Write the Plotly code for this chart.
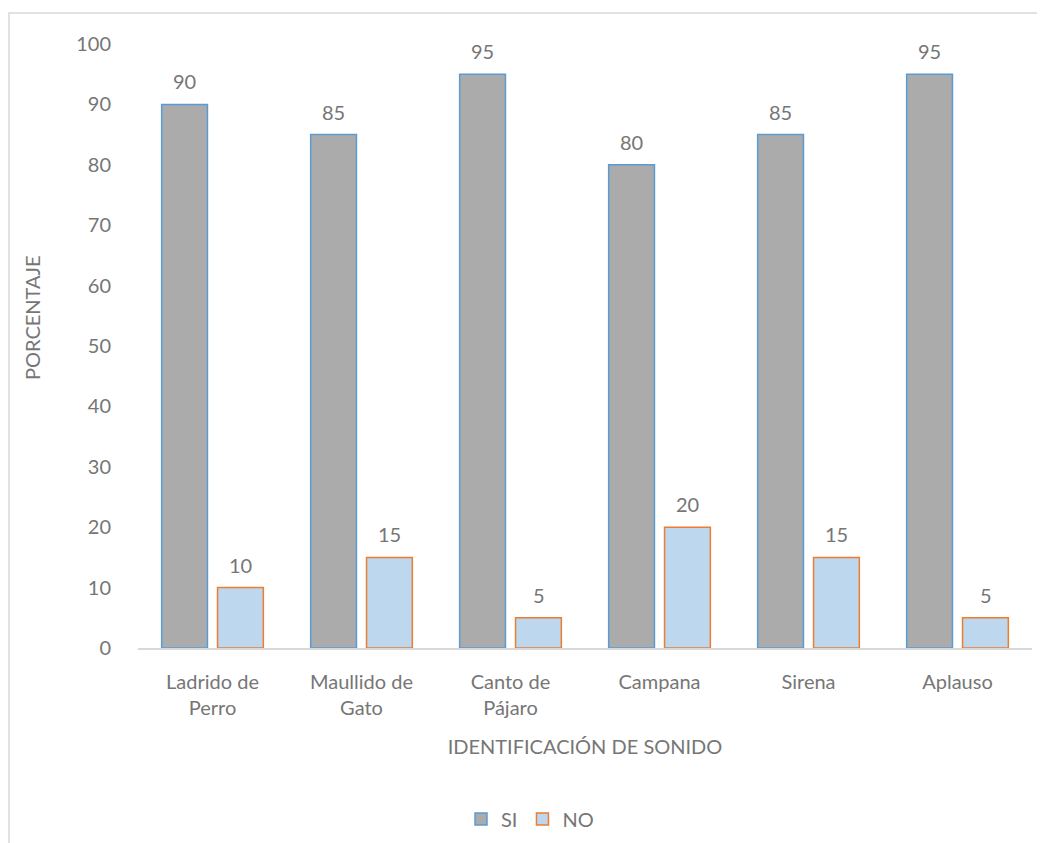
import plotly.graph_objects as go

categories = ["Ladrido de<br>Perro", "Maullido de<br>Gato", "Canto de<br>Pájaro", "Campana", "Sirena", "Aplauso"]
si_values = [90, 85, 95, 80, 85, 95]
no_values = [10, 15, 5, 20, 15, 5]
y_ticks = [0, 10, 20, 30, 40, 50, 60, 70, 80, 90, 100]

FONT = "Lato"
TXT = "#767676"
FS = 20
W, H = 1045, 843
L, R, T, B = 130, 21, 36, 203
pw, ph = W - L - R, H - T - B

fig = go.Figure()
fig.add_trace(go.Bar(name="SI", x=categories, y=si_values,
                     marker=dict(color="#ABABAB", line=dict(color="#5B9BD5", width=1.5))))
fig.add_trace(go.Bar(name="NO", x=categories, y=no_values,
                     marker=dict(color="#BDD7EE", line=dict(color="#ED7D31", width=1.5))))

off = 0.188
annos = []
for i, (s, n) in enumerate(zip(si_values, no_values)):
    for v, dx in ((s, -off), (n, off)):
        annos.append(dict(x=i + dx, y=v, xref="x", yref="y", text=str(v), showarrow=False,
                          yanchor="bottom", yshift=9, font=dict(family=FONT, size=FS, color=TXT)))
annos.append(dict(x=(24 - L) / pw, y=(H - B - 310) / ph, xref="paper", yref="paper",
                  text="PORCENTAJE", textangle=-90, showarrow=False,
                  xanchor="center", yanchor="middle", font=dict(family=FONT, size=20, color=TXT)))

fig.add_shape(type="rect", xref="paper", yref="paper",
              x0=(1 - L) / pw, x1=1.1, y0=-0.5, y1=1 + (T - 5) / ph,
              line=dict(color="#D9D9D9", width=1.5), fillcolor="rgba(0,0,0,0)", layer="below")

fig.update_layout(
    width=W, height=H,
    margin=dict(l=L, r=R, t=T, b=B, autoexpand=False),
    paper_bgcolor="white", plot_bgcolor="white",
    barmode="group", bargap=0.25, bargroupgap=0.18,
    font=dict(family=FONT, size=FS, color=TXT),
    annotations=annos,
    showlegend=True,
    legend=dict(orientation="h", x=(530 - 8 - L) / pw, xanchor="center", y=-0.283, yanchor="middle",
                font=dict(family=FONT, size=FS, color=TXT), itemwidth=30,
                traceorder="normal"),
    xaxis=dict(showgrid=False, showline=True, linecolor="#D9D9D9", linewidth=1.5,
               ticks="outside", ticklen=15, tickcolor="rgba(0,0,0,0)",
               tickfont=dict(family=FONT, size=FS, color=TXT),
               title=dict(text="IDENTIFICACIÓN DE SONIDO", standoff=22,
                          font=dict(family=FONT, size=FS, color=TXT))),
    yaxis=dict(range=[0, 100], tickvals=y_ticks, showgrid=False, zeroline=False, showline=False,
               ticks="outside", ticklen=22, tickcolor="rgba(0,0,0,0)",
               tickfont=dict(family=FONT, size=FS, color=TXT)),
)

fig.write_html("out.html")
